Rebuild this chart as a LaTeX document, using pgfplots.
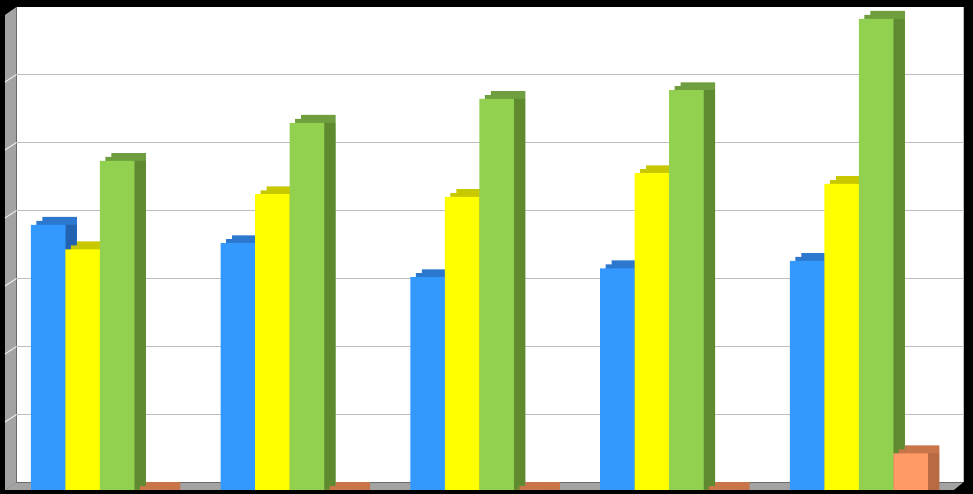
\documentclass[border=0pt]{standalone}
\usepackage{pgfplots}
\usepackage{pgfplotstable}
\pgfplotsset{compat=1.18}
\definecolor{bluefront}{HTML}{3399FF}
\definecolor{bluetop}{HTML}{2C78CF}
\definecolor{blueside}{HTML}{2262B0}
\definecolor{yelfront}{HTML}{FFFF00}
\definecolor{yeltop}{HTML}{C8C800}
\definecolor{yelside}{HTML}{B0B000}
\definecolor{grnfront}{HTML}{92D050}
\definecolor{grntop}{HTML}{6E9E3E}
\definecolor{grnside}{HTML}{5F8A30}
\definecolor{orgfront}{HTML}{FF9966}
\definecolor{orgtop}{HTML}{C8754A}
\definecolor{orgside}{HTML}{B86A42}
\definecolor{wallgray}{HTML}{A3A3A3}
\definecolor{gridgray}{HTML}{BEBEBE}
\pgfplotstableread{
x blue yellow green orange
0 3.90 3.54 4.84 0
1 3.63 4.35 5.40 0
2 3.13 4.31 5.75 0
3 3.26 4.66 5.88 0
4 3.37 4.50 6.93 0.54
}\datatable
\def\dep{0.115}
\def\deph{0.0575}
\begin{document}
\begin{tikzpicture}
\useasboundingbox (0pt,0pt) rectangle (973pt,494pt);
\fill[black] (0pt,0pt) rectangle (973pt,494pt);
% back wall
\fill[white] (16.5pt,11.5pt) rectangle (963pt,487pt);
\draw[gridgray,line width=1pt] (963pt,11.5pt) -- (963pt,487pt);
% left wall
\fill[wallgray] (5pt,4pt) -- (5pt,479pt) -- (16.5pt,487pt) -- (16.5pt,11.5pt) -- cycle;
% floor
\fill[wallgray] (5pt,4pt) -- (16.5pt,11.5pt) -- (963pt,11.5pt) -- (953.75pt,4pt) -- cycle;
% grid lines
\foreach \k in {1,...,6} {
  \pgfmathsetmacro{\gy}{11.5+68*\k}
  \pgfmathsetmacro{\gz}{4+68*\k}
  \draw[gridgray,line width=1.5pt] (16.5pt,\gy pt) -- (963pt,\gy pt);
  \draw[white!85!gray,line width=1pt] (5pt,\gz pt) -- (16.5pt,\gy pt);
}
\begin{axis}[
  at={(5pt,4pt)}, anchor=south west,
  scale only axis, hide axis, clip=false,
  x=189.75pt, y=68pt,
  xmin=-0.5, xmax=4.5, ymin=0, ymax=6.985,
]
% blue
\addplot[ybar, draw=none, fill=bluetop, bar width=34.5pt, bar shift=-40.25pt] table[x=x,y expr=\thisrow{blue}+\dep] {\datatable};
\addplot[ybar, draw=none, fill=bluetop, bar width=34.5pt, bar shift=-46.25pt] table[x=x,y expr=\thisrow{blue}+\deph] {\datatable};
\addplot[ybar, draw=none, fill=blueside, bar width=11pt, bar shift=-28.75pt] table[x=x,y=blue] {\datatable};
\addplot[ybar, draw=none, fill=bluefront, bar width=34.5pt, bar shift=-51.75pt] table[x=x,y=blue] {\datatable};
% yellow
\addplot[ybar, draw=none, fill=yeltop, bar width=34.5pt, bar shift=-5.75pt] table[x=x,y expr=\thisrow{yellow}+\dep] {\datatable};
\addplot[ybar, draw=none, fill=yeltop, bar width=34.5pt, bar shift=-11.75pt] table[x=x,y expr=\thisrow{yellow}+\deph] {\datatable};
\addplot[ybar, draw=none, fill=yelside, bar width=11pt, bar shift=5.75pt] table[x=x,y=yellow] {\datatable};
\addplot[ybar, draw=none, fill=yelfront, bar width=34.5pt, bar shift=-17.25pt] table[x=x,y=yellow] {\datatable};
% green
\addplot[ybar, draw=none, fill=grntop, bar width=34.5pt, bar shift=28.75pt] table[x=x,y expr=\thisrow{green}+\dep] {\datatable};
\addplot[ybar, draw=none, fill=grntop, bar width=34.5pt, bar shift=22.75pt] table[x=x,y expr=\thisrow{green}+\deph] {\datatable};
\addplot[ybar, draw=none, fill=grnside, bar width=11pt, bar shift=40.25pt] table[x=x,y=green] {\datatable};
\addplot[ybar, draw=none, fill=grnfront, bar width=34.5pt, bar shift=17.25pt] table[x=x,y=green] {\datatable};
% orange
\addplot[ybar, draw=none, fill=orgtop, bar width=34.5pt, bar shift=63.25pt] table[x=x,y expr=\thisrow{orange}+\dep] {\datatable};
\addplot[ybar, draw=none, fill=orgtop, bar width=34.5pt, bar shift=57.25pt] table[x=x,y expr=\thisrow{orange}+\deph] {\datatable};
\addplot[ybar, draw=none, fill=orgside, bar width=11pt, bar shift=74.75pt] table[x=x,y=orange] {\datatable};
\addplot[ybar, draw=none, fill=orgfront, bar width=34.5pt, bar shift=51.75pt] table[x=x,y=orange] {\datatable};
\end{axis}
\end{tikzpicture}
\end{document}
